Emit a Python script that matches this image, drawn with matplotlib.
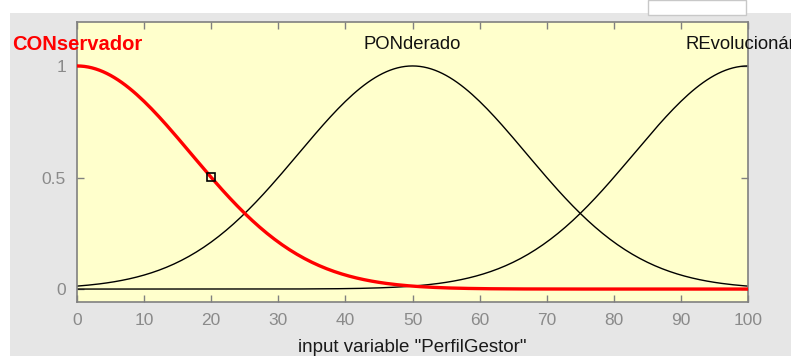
import numpy as np
import matplotlib.pyplot as plt
from matplotlib.patches import Rectangle

# membership functions of input "PerfilGestor" (gaussmf: sigma, center)
mf_names = ['CONservador', 'PONderado', 'REvolucionário']
mf_sigma = [17.0, 17.0, 17.0]
mf_center = [0.0, 50.0, 100.0]
selected = 0          # highlighted function
marker_x = 20.0       # point marked on the selected curve
x_ticks = [0, 10, 20, 30, 40, 50, 60, 70, 80, 90, 100]
y_ticks = [0, 0.5, 1]
y_ticklabels = ['0', '0.5', '1']

plt.rcParams['font.family'] = ['Liberation Sans', 'DejaVu Sans']


def gaussmf(x, sigma, c):
    return np.exp(-(x - c) ** 2 / (2 * sigma ** 2))


fig = plt.figure(figsize=(7.91, 3.56), dpi=100)
fig.patch.set_facecolor('white')
# grey window panel
fig.patches.append(Rectangle((10 / 791, 0), 1, 1 - 13 / 356, transform=fig.transFigure,
                             facecolor='#e6e6e6', edgecolor='none', zorder=-10))
fig.patches.append(Rectangle((648 / 791, 1 - 15 / 356), 98 / 791, 15 / 356, transform=fig.transFigure,
                             facecolor='white', edgecolor='#c8c8c8', lw=1, zorder=-9))

ax = fig.add_axes([77 / 791, 1 - 302 / 356, 671 / 791, 280 / 356])
ax.set_facecolor('#ffffcc')

x = np.linspace(0, 100, 181)
order = [i for i in range(len(mf_names)) if i != selected] + [selected]
for i in order:
    y = gaussmf(x, mf_sigma[i], mf_center[i])
    if i == selected:
        ax.plot(x, y, color='red', lw=2.4, zorder=3)
        ax.text(mf_center[i], 1.095, mf_names[i], color='red', fontsize=14.5,
                fontweight='bold', ha='center', va='center', clip_on=False)
    else:
        ax.plot(x, y, color='black', lw=1.0, zorder=2)
        ax.text(mf_center[i], 1.095, mf_names[i], color='#111111', fontsize=13.3,
                ha='center', va='center', clip_on=False)

ax.plot([marker_x], [gaussmf(marker_x, mf_sigma[selected], mf_center[selected])],
        marker='s', ms=6, mfc='none', mec='black', mew=1.2, zorder=4)

ax.set_xlim(0, 100)
ax.set_ylim(-0.058, 1.197)
ax.set_xticks(x_ticks)
ax.set_yticks(y_ticks)
ax.set_yticklabels(y_ticklabels)
ax.tick_params(direction='in', top=True, right=True, length=5, width=1,
               color='#808080', labelcolor='#8a8a8a', labelsize=12.5, pad=8)
for s in ax.spines.values():
    s.set_color('#808080')
    s.set_linewidth(1.2)
ax.set_xlabel('input variable "PerfilGestor"', fontsize=13.5, color='#1a1a1a', labelpad=8)

fig.savefig('out.png', dpi=100)
